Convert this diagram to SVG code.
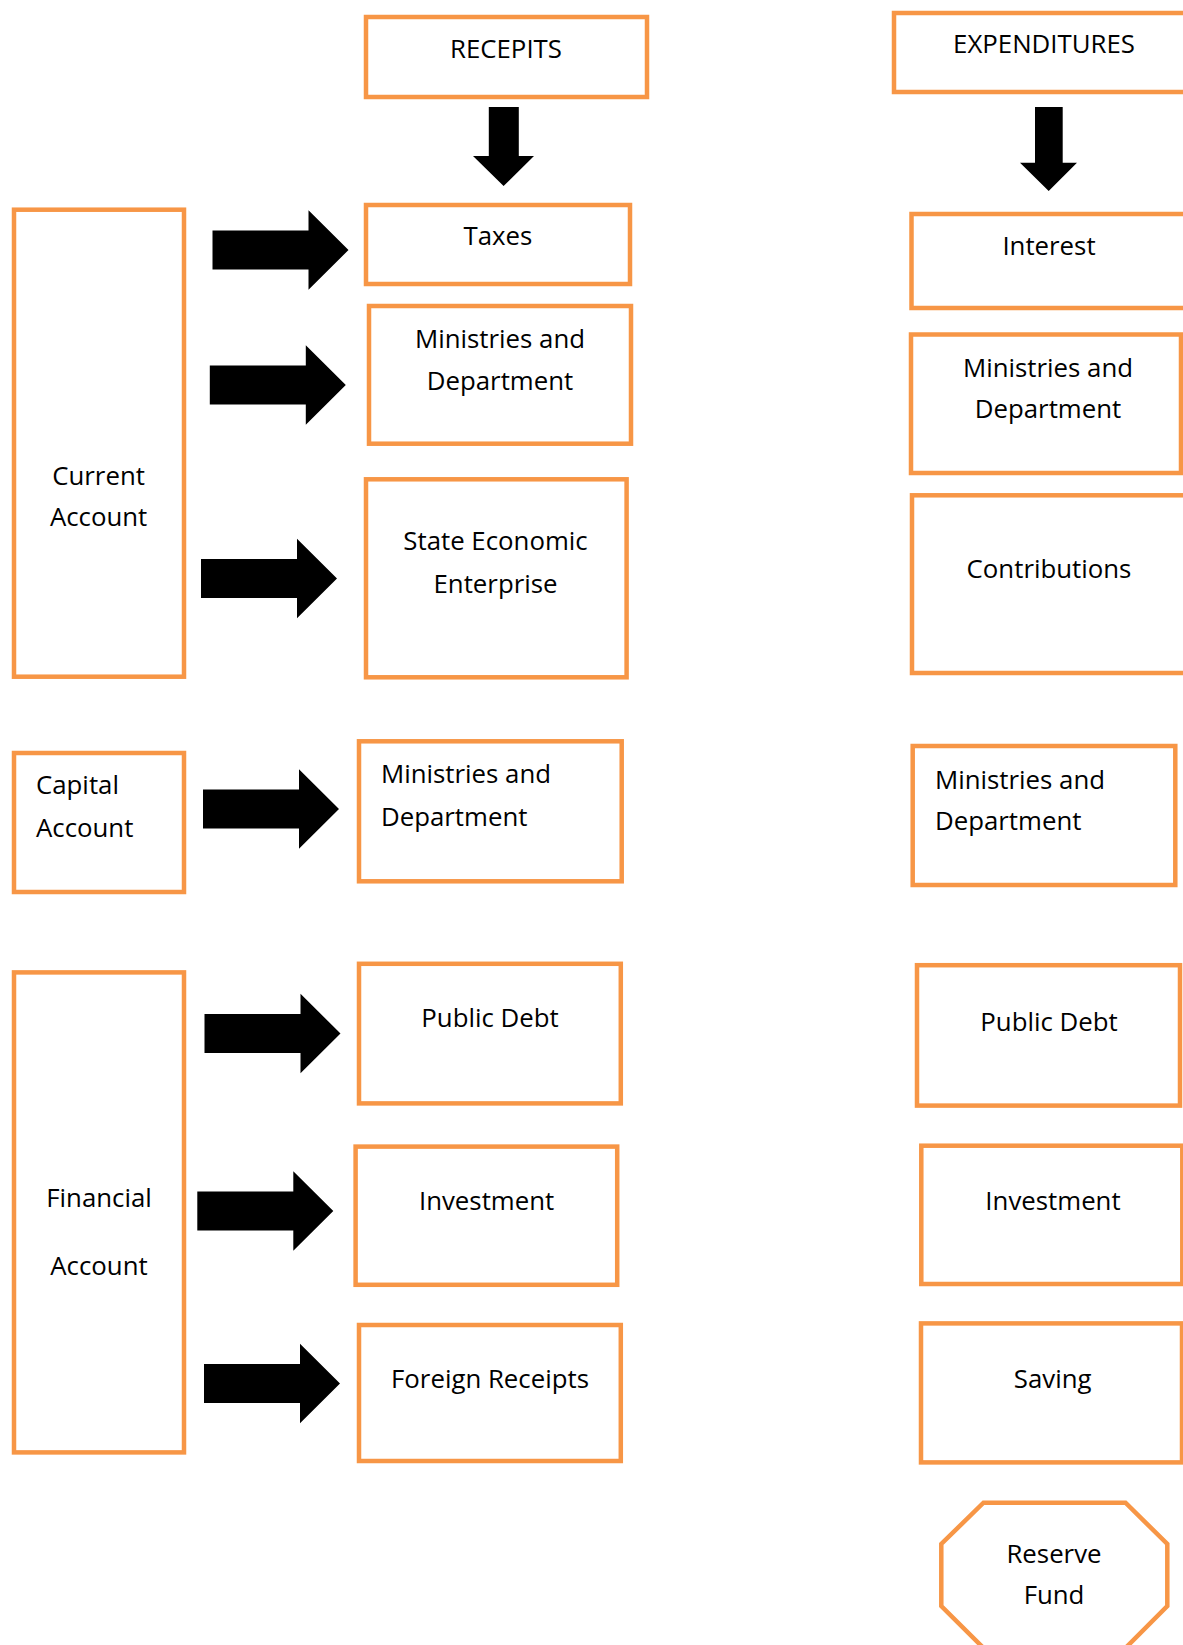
<svg xmlns="http://www.w3.org/2000/svg" xmlns:xlink="http://www.w3.org/1999/xlink" width="1183" height="1645" viewBox="0 0 1183 1645">
<style>
.box{fill:#fff;stroke:#F79646;stroke-width:4.5}
.t{font-family:"Open Sans","Liberation Sans",sans-serif;font-size:25.8px;fill:#000}
.c{text-anchor:middle}
.arr{fill:#000}
</style>
<defs>
<path id="ra" d="M0,-19.5 H96 V-39.7 L136,0 L96,39.7 V19.5 H0 Z"/>
</defs>
<rect width="1183" height="1645" fill="#fff"/>
<g id="connectors" class="arr">
<polygon points="488.8,107 518.8,107 518.8,156 534,156 503.6,186 473,156 488.8,156"/>
<polygon points="1035,107 1062.7,107 1062.7,162.7 1077,162.7 1048.7,191 1020,162.7 1035,162.7"/>
<use xlink:href="#ra" transform="translate(212.5,250)"/>
<use xlink:href="#ra" transform="translate(209.8,385)"/>
<use xlink:href="#ra" transform="translate(201,578.5)"/>
<use xlink:href="#ra" transform="translate(203,809)"/>
<use xlink:href="#ra" transform="translate(204.5,1033.5)"/>
<use xlink:href="#ra" transform="translate(197.3,1211)"/>
<use xlink:href="#ra" transform="translate(204,1383.5)"/>
</g>
<g id="receipts"><rect class="box" x="366" y="17" width="281" height="80"/><text class="t c" x="506" y="58">RECEPITS</text></g>
<g id="expenditures"><rect class="box" x="894" y="13" width="300" height="79"/><text class="t c" x="1044" y="53">EXPENDITURES</text></g>
<g id="taxes"><rect class="box" x="366" y="205" width="264" height="79"/><text class="t c" x="498" y="245">Taxes</text></g>
<g id="interest"><rect class="box" x="911.5" y="214" width="290" height="94"/><text class="t c" x="1049" y="255">Interest</text></g>
<g id="ministries-r-left"><rect class="box" x="369" y="306" width="262" height="137.7"/><text class="t c" x="500" y="348">Ministries and</text><text class="t c" x="500" y="390">Department</text></g>
<g id="ministries-e-right"><rect class="box" x="911" y="334.5" width="270" height="138.5"/><text class="t c" x="1048" y="377">Ministries and</text><text class="t c" x="1048" y="418">Department</text></g>
<g id="current-account"><rect class="box" x="14" y="209.7" width="170" height="467"/><text class="t c" x="98.6" y="485">Current</text><text class="t c" x="98.6" y="526">Account</text></g>
<g id="state-economic"><rect class="box" x="366" y="479.3" width="260.6" height="198"/><text class="t c" x="495.5" y="550">State Economic</text><text class="t c" x="495.5" y="592.5">Enterprise</text></g>
<g id="contributions"><rect class="box" x="912" y="495.3" width="290" height="177.7"/><text class="t c" x="1049" y="578">Contributions</text></g>
<g id="capital-account"><rect class="box" x="14" y="753" width="170" height="139"/><text class="t" x="36" y="794">Capital</text><text class="t" x="36" y="836.5">Account</text></g>
<g id="ministries-cap-left"><rect class="box" x="359" y="741.3" width="262.7" height="140"/><text class="t" x="381" y="783">Ministries and</text><text class="t" x="381" y="826">Department</text></g>
<g id="ministries-cap-right"><rect class="box" x="912.7" y="746" width="262.6" height="139"/><text class="t" x="935" y="789">Ministries and</text><text class="t" x="935" y="830">Department</text></g>
<g id="financial-account"><rect class="box" x="14" y="972.4" width="170" height="480"/><text class="t c" x="99" y="1207">Financial</text><text class="t c" x="99" y="1275">Account</text></g>
<g id="public-debt-left"><rect class="box" x="359" y="963.8" width="261.8" height="139.6"/><text class="t c" x="490" y="1027">Public Debt</text></g>
<g id="public-debt-right"><rect class="box" x="917" y="965.2" width="263" height="140.4"/><text class="t c" x="1049" y="1030.5">Public Debt</text></g>
<g id="investment-left"><rect class="box" x="355.6" y="1146.6" width="261.6" height="138.2"/><text class="t c" x="486.6" y="1210">Investment</text></g>
<g id="investment-right"><rect class="box" x="921.3" y="1145.7" width="261" height="138.3"/><text class="t c" x="1053" y="1209.7">Investment</text></g>
<g id="foreign-receipts"><rect class="box" x="359" y="1325" width="261.8" height="136"/><text class="t c" x="490" y="1387.5">Foreign Receipts</text></g>
<g id="saving"><rect class="box" x="921" y="1323.4" width="261" height="139"/><text class="t c" x="1052.7" y="1388">Saving</text></g>
<g id="reserve-fund"><polygon class="box" points="983.5,1502.7 1125.5,1502.7 1167.3,1544 1167.3,1606 1125.5,1648 983.5,1648 941.3,1606 941.3,1544"/><text class="t c" x="1054" y="1563">Reserve</text><text class="t c" x="1054" y="1604">Fund</text></g>
</svg>
